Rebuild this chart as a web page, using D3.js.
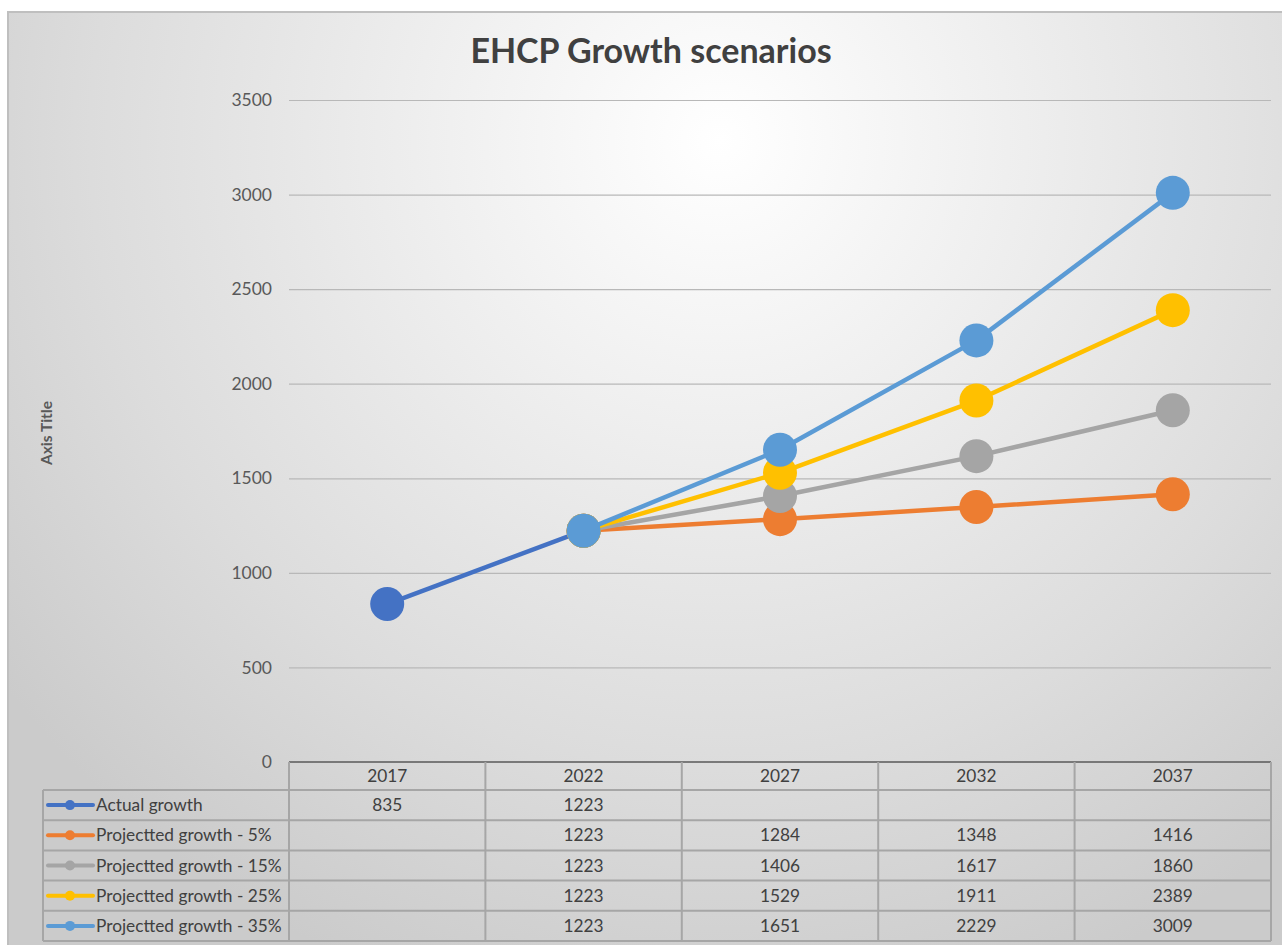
<!DOCTYPE html>
<html>
<head>
<meta charset="utf-8">
<script src="https://cdn.jsdelivr.net/npm/d3@7"></script>
<style>
  body { margin: 0; background: #fff; }
  svg { display: block; }
  text { font-family: Lato, "Open Sans", sans-serif; }
</style>
</head>
<body>
<svg id="chart" width="1282" height="945"></svg>
<script>
// data
var years = ['2017', '2022', '2027', '2032', '2037'];
var seriesNames = ['Actual growth', 'Projectted growth - 5%', 'Projectted growth - 15%',
                   'Projectted growth - 25%', 'Projectted growth - 35%'];
var actualGrowth = [835, 1223, null, null, null];
var growth5 = [null, 1223, 1284, 1348, 1416];
var growth15 = [null, 1223, 1406, 1617, 1860];
var growth25 = [null, 1223, 1529, 1911, 2389];
var growth35 = [null, 1223, 1651, 2229, 3009];
var yTicks = [0, 500, 1000, 1500, 2000, 2500, 3000, 3500];
var colors = ['#4472C4', '#ED7D31', '#A5A5A5', '#FFC000', '#5B9BD5'];

var allSeries = [actualGrowth, growth5, growth15, growth25, growth35];

var svg = d3.select('#chart');

// background gradient
var defs = svg.append('defs');
var grad = defs.append('radialGradient')
    .attr('id', 'bg')
    .attr('gradientUnits', 'userSpaceOnUse')
    .attr('cx', 720).attr('cy', 140).attr('r', 900);
grad.append('stop').attr('offset', '0%').attr('stop-color', '#ffffff');
grad.append('stop').attr('offset', '70%').attr('stop-color', '#dcdcdc');
grad.append('stop').attr('offset', '100%').attr('stop-color', '#cbcbcb');

svg.append('rect')
    .attr('x', 8).attr('y', 12)
    .attr('width', 1290).attr('height', 950)
    .attr('fill', 'url(#bg)')
    .attr('stroke', '#bfbfbf')
    .attr('stroke-width', 2);

// scales
var plotLeft = 289, plotRight = 1271, plotTop = 100, plotBottom = 762;

var x = d3.scaleBand()
    .domain(years)
    .range([plotLeft, plotRight]);

var y = d3.scaleLinear()
    .domain([0, 3500])
    .range([plotBottom, plotTop]);

// title
svg.append('text')
    .attr('x', 651).attr('y', 63)
    .attr('text-anchor', 'middle')
    .attr('font-size', 34)
    .attr('font-weight', 'bold')
    .attr('fill', '#404040')
    .text('EHCP Growth scenarios');

// axis title
svg.append('text')
    .attr('transform', 'translate(52,433) rotate(-90)')
    .attr('text-anchor', 'middle')
    .attr('font-size', 15.5)
    .attr('font-weight', 'bold')
    .attr('fill', '#595959')
    .text('Axis Title');

// gridlines + y axis
var yAxis = d3.axisLeft(y)
    .tickValues(yTicks)
    .tickSize(-(plotRight - plotLeft))
    .tickPadding(17)
    .tickFormat(d3.format('d'));

var gy = svg.append('g')
    .attr('transform', 'translate(' + plotLeft + ',0)')
    .call(yAxis);
gy.select('.domain').remove();
gy.selectAll('.tick line')
    .attr('stroke', '#b8b8b8')
    .attr('stroke-width', 1.2);
gy.selectAll('.tick text')
    .attr('fill', '#595959')
    .attr('font-size', 17.5)
    .attr('font-family', 'Lato, "Open Sans", sans-serif');
gy.selectAll('.tick').filter(function(d) { return d === 0; }).select('line').remove();

// lines and markers
var line = d3.line()
    .defined(function(d) { return d != null; })
    .x(function(d, i) { return x(years[i]) + x.bandwidth() / 2; })
    .y(function(d) { return y(d); });

allSeries.forEach(function(values, s) {
    var g = svg.append('g');
    g.append('path')
        .attr('d', line(values))
        .attr('fill', 'none')
        .attr('stroke', colors[s])
        .attr('stroke-width', 4.5)
        .attr('stroke-linejoin', 'round');
    g.selectAll('circle')
        .data(values.map(function(v, i) { return { v: v, i: i }; })
            .filter(function(d) { return d.v != null; }))
        .enter().append('circle')
        .attr('cx', function(d) { return x(years[d.i]) + x.bandwidth() / 2; })
        .attr('cy', function(d) { return y(d.v); })
        .attr('r', 17)
        .attr('fill', colors[s]);
});

// data table
var headerTop = 762, headerH = 28, rowH = 30.2, legendLeft = 43;
var tableBottom = headerTop + headerH + rowH * seriesNames.length;
var tbl = svg.append('g');
var borderColor = '#a6a6a6';
var fs = 17.3;

// horizontal lines
tbl.append('line')
    .attr('x1', plotLeft).attr('x2', plotRight)
    .attr('y1', headerTop).attr('y2', headerTop)
    .attr('stroke', '#595959').attr('stroke-width', 1.5);
for (var r = 0; r <= seriesNames.length; r++) {
    var yy = headerTop + headerH + r * rowH;
    tbl.append('line')
        .attr('x1', legendLeft).attr('x2', plotRight)
        .attr('y1', yy).attr('y2', yy)
        .attr('stroke', borderColor).attr('stroke-width', 2);
}
// vertical lines
tbl.append('line')
    .attr('x1', legendLeft).attr('x2', legendLeft)
    .attr('y1', headerTop + headerH).attr('y2', tableBottom)
    .attr('stroke', borderColor).attr('stroke-width', 2);
years.forEach(function(yr) {
    var xx = x(yr);
    tbl.append('line')
        .attr('x1', xx).attr('x2', xx)
        .attr('y1', headerTop).attr('y2', tableBottom)
        .attr('stroke', borderColor).attr('stroke-width', 2);
});
tbl.append('line')
    .attr('x1', plotRight).attr('x2', plotRight)
    .attr('y1', headerTop).attr('y2', tableBottom)
    .attr('stroke', borderColor).attr('stroke-width', 2);

// header labels
tbl.selectAll('text.year')
    .data(years)
    .enter().append('text')
    .attr('class', 'year')
    .attr('x', function(d) { return x(d) + x.bandwidth() / 2; })
    .attr('y', headerTop + headerH / 2 + 6)
    .attr('text-anchor', 'middle')
    .attr('font-size', fs)
    .attr('fill', '#404040')
    .text(function(d) { return d; });

// rows
seriesNames.forEach(function(name, s) {
    var rowTop = headerTop + headerH + s * rowH;
    var cy = rowTop + rowH / 2;
    tbl.append('line')
        .attr('x1', 48).attr('x2', 93)
        .attr('y1', cy).attr('y2', cy)
        .attr('stroke', colors[s]).attr('stroke-width', 4)
        .attr('stroke-linecap', 'round');
    tbl.append('circle')
        .attr('cx', 70).attr('cy', cy).attr('r', 5)
        .attr('fill', colors[s]);
    tbl.append('text')
        .attr('x', 96).attr('y', cy + 6)
        .attr('font-size', fs)
        .attr('fill', '#404040')
        .text(name);
    allSeries[s].forEach(function(v, i) {
        if (v == null) return;
        tbl.append('text')
            .attr('x', x(years[i]) + x.bandwidth() / 2)
            .attr('y', cy + 6)
            .attr('text-anchor', 'middle')
            .attr('font-size', fs)
            .attr('fill', '#404040')
            .text(v);
    });
});
</script>
</body>
</html>
